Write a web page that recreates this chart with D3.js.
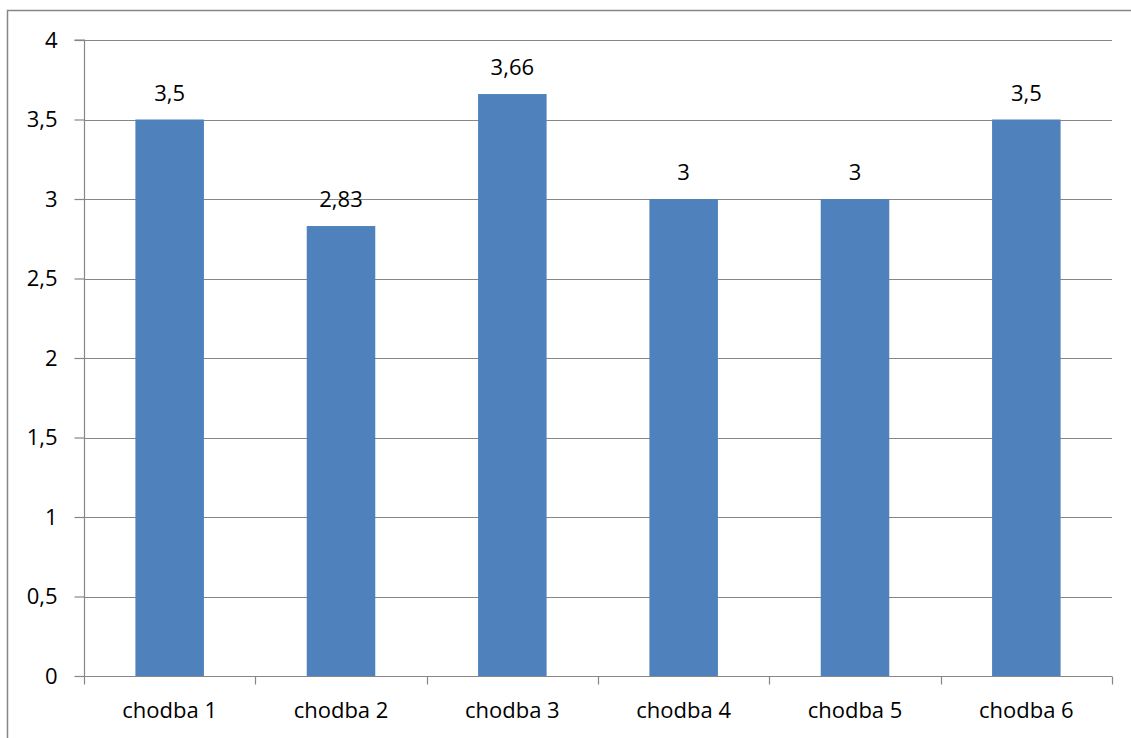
<!DOCTYPE html>
<html>
<head>
<meta charset="utf-8">
<script src="https://cdn.jsdelivr.net/npm/d3@7"></script>
<style>
  html, body { margin: 0; padding: 0; background: #fff; }
  svg { display: block; }
  text { font-family: "Open Sans", "Liberation Sans", sans-serif; fill: #000; }
</style>
</head>
<body>
<svg id="chart" width="1131" height="738"></svg>
<script>
const categories = ["chodba 1", "chodba 2", "chodba 3", "chodba 4", "chodba 5", "chodba 6"];
const values = [3.5, 2.83, 3.66, 3, 3, 3.5];
const yTicks = [0, 0.5, 1, 1.5, 2, 2.5, 3, 3.5, 4];

const W = 1131, H = 738;
const plot = { left: 84, right: 1112, top: 40, bottom: 676 };
const grey = "#868686";
const barColor = "#4F81BD";
const fontSize = 22;

const svg = d3.select("#chart");
const fmt = v => String(v).replace(".", ",");

// outer chart border (extends past the right/bottom edge)
svg.append("rect")
  .attr("x", 7.5).attr("y", 10.5)
  .attr("width", W + 10).attr("height", H + 10)
  .attr("fill", "none").attr("stroke", grey).attr("stroke-width", 1.5);

const x = d3.scaleBand().domain(categories)
  .range([plot.left, plot.right]).paddingInner(0.6).paddingOuter(0.3);
const y = d3.scaleLinear().domain([0, 4]).range([plot.bottom, plot.top]);

// gridlines
svg.append("g").selectAll("line").data(yTicks.filter(d => d > 0)).join("line")
  .attr("x1", plot.left).attr("x2", plot.right)
  .attr("y1", d => Math.round(y(d)) + 0.5).attr("y2", d => Math.round(y(d)) + 0.5)
  .attr("stroke", grey).attr("stroke-width", 1.2);

// bars
svg.append("g").selectAll("rect").data(values).join("rect")
  .attr("x", (d, i) => x(categories[i]))
  .attr("width", x.bandwidth())
  .attr("y", d => y(d))
  .attr("height", d => y(0) - y(d))
  .attr("fill", barColor);

// y axis
const yAxis = svg.append("g")
  .attr("transform", `translate(${plot.left + 0.5},0)`)
  .call(d3.axisLeft(y).tickValues(yTicks).tickFormat(fmt).tickSize(10).tickPadding(17));
yAxis.select(".domain").attr("stroke", grey).attr("stroke-width", 1.2).attr("d", `M-10,${plot.top}H0V${plot.bottom}`);
yAxis.selectAll(".tick line").attr("stroke", grey).attr("stroke-width", 1.2);
yAxis.selectAll(".tick text").attr("font-size", fontSize).attr("font-family", null).attr("fill", "#000");

// x axis baseline
const xAxisG = svg.append("g").attr("transform", `translate(0,${Math.round(y(0)) + 0.5})`);
xAxisG.append("line").attr("x1", plot.left).attr("x2", plot.right)
  .attr("stroke", grey).attr("stroke-width", 1.2);
// boundary ticks between categories
const boundaries = d3.range(categories.length + 1).map(i => plot.left + i * x.step());
xAxisG.selectAll("line.b").data(boundaries).join("line").attr("class", "b")
  .attr("x1", d => Math.round(d) + 0.5).attr("x2", d => Math.round(d) + 0.5)
  .attr("y1", 0).attr("y2", 8)
  .attr("stroke", grey).attr("stroke-width", 1.2);

// category labels
const xAxis = svg.append("g")
  .attr("transform", `translate(0,${y(0)})`)
  .call(d3.axisBottom(x).tickSize(0).tickPadding(0));
xAxis.select(".domain").remove();
xAxis.selectAll(".tick text").attr("font-size", fontSize).attr("font-family", null)
  .attr("fill", "#000").attr("dy", null).attr("y", 42);

// data labels
svg.append("g").selectAll("text").data(values).join("text")
  .attr("x", (d, i) => x(categories[i]) + x.bandwidth() / 2)
  .attr("y", d => y(d) - 19)
  .attr("text-anchor", "middle")
  .attr("font-size", fontSize)
  .text(fmt);
</script>
</body>
</html>
